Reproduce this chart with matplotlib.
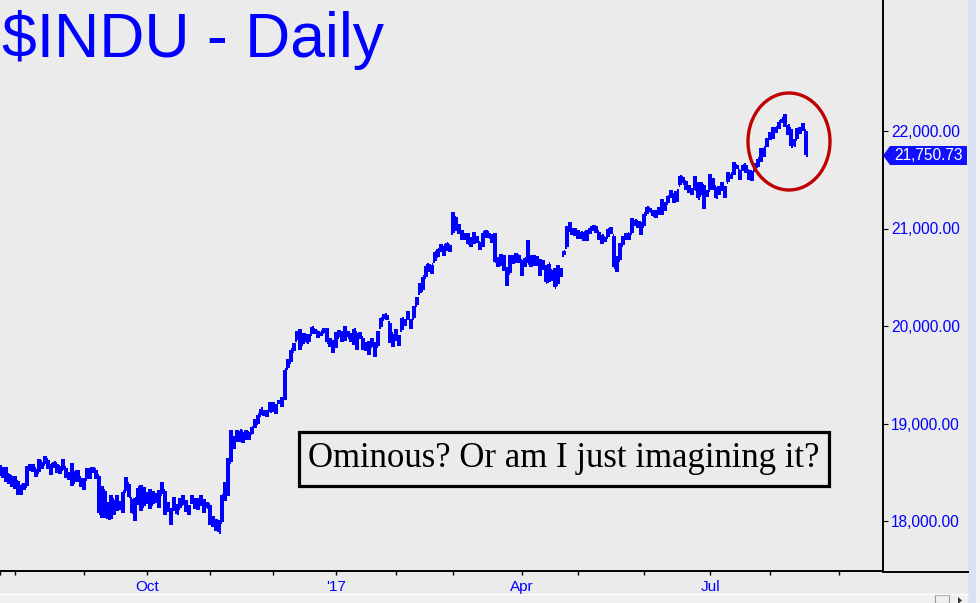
import numpy as np
import pandas as pd
import matplotlib
matplotlib.use("Agg")
import matplotlib.pyplot as plt
from matplotlib.patches import Ellipse, Rectangle, Polygon
from matplotlib.lines import Line2D

# ---------------- data (daily OHLC, $INDU, 25 Jul 2016 - 17 Aug 2017) ----------------
holidays = ["2016-09-05", "2016-11-24", "2016-12-26", "2017-01-02", "2017-01-16",
            "2017-02-20", "2017-04-14", "2017-05-29", "2017-07-04"]
dates = pd.bdate_range("2016-07-25", "2017-08-17").difference(pd.to_datetime(holidays))

opens = [
    18571, 18499, 18475, 18467, 18453,
    18434, 18401, 18315, 18354, 18360, 18541, 18531, 18532, 18501, 18610, 18580, 18626, 18550, 18567, 18586, 18550, 18537, 18540, 18479, 18455, 18395, 18500, 18445,
    18400, 18434, 18487, 18533, 18519, 18460, 18064, 18308, 18068, 18032, 18217, 18140, 18144, 18144, 18311, 18375, 18228, 18093, 18222, 18337, 18149,
    18282, 18270, 18178, 18268, 18282, 18282, 18308, 18132, 18088, 18177, 18135, 18130, 18179, 18182, 18141, 18190, 18209, 18165, 18200, 18172, 18176,
    18162, 18018, 17978, 17928, 17994, 18252, 18317, 18604, 18781, 18876, 18858, 18909, 18866, 18903, 18898, 18981, 19009, 19090, 19123, 19089, 19143,
    19149, 19174, 19217, 19235, 19262, 19565, 19631, 19739, 19852, 19876, 19811, 19912, 19836, 19920, 19962, 19935, 19914, 19943, 19964, 19835, 19833,
    19872, 19891, 19924, 19906, 19931, 19877, 19888, 19927, 19912, 19872, 19820, 19813, 19795, 19795, 19794, 19994, 20067, 20108, 20028, 19913,
    19923, 19860, 19964, 20025, 20107, 20049, 20085, 20211, 20338, 20374, 20504, 20627, 20564, 20663, 20723, 20800, 20773, 20801, 20819,
    20957, 21112, 20999, 20960, 20929, 20911, 20873, 20915, 20900, 20851, 20845, 20962, 20949, 20927, 20927, 20638, 20667, 20689, 20475, 20548, 20690, 20669, 20721,
    20665, 20634, 20709, 20658, 20680, 20665, 20625, 20650, 20576, 20464, 20560, 20541, 20435, 20572, 20732, 20811, 21000, 20978, 20983,
    20962, 20923, 20926, 20969, 20970, 21018, 21018, 20963, 20907, 20906, 20908, 20997, 20921, 20596, 20680, 20830, 20920, 20943, 20958, 21071, 21069, 21056,
    21030, 21145, 21198, 21172, 21157, 21186, 21209, 21249, 21257, 21347, 21297, 21346, 21444, 21523, 21482, 21413, 21391, 21436, 21412, 21346, 21439, 21344,
    21392, 21462, 21421, 21361, 21420, 21385, 21475, 21540, 21583, 21643, 21587, 21620, 21654, 21587, 21579, 21597, 21637, 21755, 21775, 21855,
    21925, 22004, 22020, 22063, 22100, 22092, 22000, 22016, 21874, 21914, 22020, 22057, 21995,
]
highs = [
    18571, 18555, 18555, 18483, 18466,
    18462, 18409, 18365, 18387, 18559, 18583, 18585, 18537, 18638, 18610, 18668, 18626, 18588, 18608, 18586, 18565, 18635, 18547, 18505, 18594, 18516, 18518, 18445,
    18439, 18548, 18544, 18558, 18519, 18460, 18358, 18308, 18191, 18264, 18217, 18264, 18206, 18294, 18449, 18375, 18228, 18238, 18339, 18365, 18346,
    18301, 18324, 18311, 18280, 18319, 18399, 18309, 18193, 18137, 18251, 18171, 18235, 18270, 18213, 18165, 18263, 18236, 18236, 18268, 18228, 18192,
    18169, 18047, 18021, 18010, 18263, 18400, 18650, 18935, 18874, 18934, 18925, 18909, 18930, 18915, 18960, 19043, 19084, 19152, 19138, 19141, 19225,
    19218, 19196, 19244, 19275, 19551, 19664, 19757, 19830, 19953, 19969, 19930, 19918, 19918, 19987, 19969, 19949, 19934, 19981, 19981, 19878, 19853,
    19939, 19957, 19949, 19999, 19944, 19929, 19974, 19928, 19941, 19872, 19835, 19846, 19877, 19833, 19949, 20082, 20125, 20108, 20028, 19913,
    19966, 19903, 20081, 20070, 20155, 20068, 20206, 20298, 20441, 20504, 20620, 20639, 20624, 20757, 20787, 20840, 20822, 20851, 20835,
    21169, 21113, 21049, 20980, 20955, 20950, 20913, 20960, 20928, 20863, 20958, 20981, 20956, 20941, 20953, 20703, 20735, 20733, 20602, 20733, 20727, 20747, 20725,
    20677, 20694, 20887, 20732, 20733, 20721, 20683, 20678, 20622, 20636, 20577, 20596, 20624, 20595, 20769, 21026, 21071, 21006, 21007,
    20980, 20965, 20962, 20984, 21008, 21028, 21030, 20963, 20938, 20912, 20991, 21012, 20921, 20716, 20849, 20918, 20953, 20957, 21112, 21086, 21075, 21064,
    21144, 21225, 21212, 21187, 21185, 21223, 21305, 21271, 21332, 21392, 21367, 21385, 21535, 21530, 21487, 21444, 21402, 21535, 21482, 21473, 21443, 21396,
    21562, 21519, 21421, 21432, 21472, 21434, 21579, 21564, 21681, 21650, 21598, 21647, 21654, 21597, 21590, 21676, 21711, 21830, 21830, 21929,
    21990, 22036, 22045, 22092, 22121, 22179, 22060, 22016, 21917, 22030, 22042, 22084, 21995,
]
lows = [
    18466, 18440, 18405, 18384, 18351,
    18332, 18262, 18270, 18315, 18360, 18509, 18500, 18455, 18501, 18533, 18580, 18536, 18475, 18545, 18494, 18483, 18537, 18445, 18418, 18355, 18395, 18400, 18350,
    18320, 18434, 18431, 18490, 18432, 18085, 18029, 18028, 18024, 18016, 18065, 18101, 18108, 18079, 18311, 18245, 18087, 18003, 18161, 18106, 18149,
    18172, 18123, 18178, 18182, 18136, 18282, 18061, 18092, 17959, 18103, 18070, 18130, 18165, 18091, 18063, 18179, 18124, 18108, 18150, 18077, 18137,
    17960, 17941, 17902, 17883, 17994, 18208, 18257, 18604, 18737, 18815, 18806, 18805, 18832, 18834, 18891, 18951, 18994, 19090, 19072, 19069, 19121,
    19114, 19101, 19203, 19171, 19237, 19565, 19631, 19739, 19852, 19749, 19811, 19835, 19836, 19920, 19921, 19880, 19898, 19930, 19832, 19788, 19718,
    19775, 19891, 19835, 19845, 19887, 19836, 19810, 19758, 19866, 19753, 19745, 19705, 19786, 19677, 19794, 19994, 20067, 20061, 19830, 19785,
    19844, 19800, 19964, 19995, 20063, 19967, 20085, 20211, 20338, 20374, 20503, 20556, 20532, 20663, 20708, 20755, 20721, 20773, 20757,
    20957, 20977, 20939, 20877, 20877, 20841, 20812, 20842, 20851, 20777, 20811, 20904, 20903, 20855, 20660, 20603, 20616, 20563, 20413, 20547, 20638, 20650, 20651,
    20517, 20610, 20643, 20606, 20616, 20611, 20513, 20573, 20452, 20456, 20465, 20395, 20435, 20501, 20732, 20811, 20968, 20931, 20928,
    20896, 20896, 20874, 20867, 20939, 20970, 20952, 20880, 20837, 20864, 20908, 20944, 20606, 20553, 20680, 20830, 20884, 20885, 20958, 21030, 21007, 20936,
    21025, 21145, 21170, 21130, 21106, 21141, 21142, 21179, 21257, 21315, 21263, 21267, 21444, 21466, 21397, 21363, 21342, 21391, 21310, 21346, 21197, 21323,
    21392, 21392, 21313, 21345, 21383, 21308, 21475, 21508, 21553, 21608, 21502, 21594, 21567, 21500, 21485, 21597, 21629, 21677, 21738, 21840,
    21911, 21920, 21978, 22017, 22085, 22043, 21956, 21844, 21843, 21914, 21970, 21998, 21750,
]
closes = [
    18493, 18473, 18472, 18456, 18432,
    18404, 18313, 18355, 18352, 18543, 18529, 18533, 18495, 18613, 18576, 18636, 18552, 18573, 18597, 18552, 18529, 18547, 18481, 18448, 18395, 18502, 18454, 18401,
    18419, 18492, 18538, 18526, 18479, 18085, 18325, 18067, 18034, 18212, 18124, 18120, 18130, 18294, 18392, 18261, 18094, 18228, 18339, 18143, 18308,
    18253, 18168, 18281, 18269, 18240, 18329, 18129, 18144, 18098, 18138, 18086, 18162, 18203, 18162, 18145, 18223, 18169, 18199, 18170, 18161, 18142,
    18037, 17959, 17931, 17888, 18260, 18332, 18590, 18807, 18848, 18869, 18924, 18868, 18904, 18868, 18956, 19024, 19083, 19152, 19098, 19122, 19124,
    19192, 19171, 19217, 19252, 19550, 19615, 19757, 19797, 19912, 19792, 19853, 19843, 19884, 19975, 19942, 19919, 19934, 19946, 19834, 19820, 19763,
    19882, 19943, 19900, 19964, 19888, 19856, 19954, 19892, 19886, 19826, 19804, 19732, 19827, 19800, 19913, 20069, 20101, 20094, 19971, 19864,
    19891, 19885, 20071, 20052, 20090, 20054, 20173, 20269, 20413, 20504, 20612, 20620, 20624, 20744, 20776, 20811, 20822, 20837, 20812,
    21115, 21003, 21006, 20954, 20924, 20856, 20858, 20903, 20881, 20837, 20950, 20934, 20915, 20905, 20669, 20661, 20656, 20597, 20551, 20702, 20659, 20729, 20663,
    20650, 20689, 20648, 20662, 20656, 20658, 20651, 20591, 20453, 20636, 20523, 20404, 20578, 20548, 20763, 20996, 20976, 20982, 20941,
    20913, 20950, 20957, 20951, 21007, 21013, 20975, 20943, 20919, 20897, 20982, 20980, 20607, 20663, 20805, 20895, 20937, 20938, 21083, 21080, 21029, 21009,
    21144, 21206, 21184, 21137, 21173, 21183, 21272, 21236, 21328, 21375, 21360, 21384, 21529, 21468, 21411, 21397, 21395, 21409, 21311, 21455, 21288, 21350,
    21479, 21479, 21321, 21414, 21409, 21409, 21533, 21554, 21638, 21630, 21575, 21641, 21612, 21580, 21513, 21613, 21711, 21797, 21830, 21891,
    21964, 22016, 22026, 22092, 22118, 22085, 22049, 21844, 21858, 21993, 21999, 22025, 21750.73,
]
last_price = closes[-1]

y_ticks = [18000, 19000, 20000, 21000, 22000]
month_labels = {"2016-10": "Oct", "2017-01": "'17", "2017-04": "Apr", "2017-07": "Jul"}
title = "$INDU - Daily"
note = "Ominous? Or am I just imagining it?"

# ---------------- figure ----------------
W, H = 980, 603
BG = "#ebebeb"
BLUE = "#0000ff"
fig = plt.figure(figsize=(W / 100, H / 100), dpi=100, facecolor=BG)

def fx(px):
    return px / W

def fy(py):
    return 1 - py / H

ax = fig.add_axes([0, fy(571), fx(883), 571 / H])
ax.set_facecolor(BG)

n = len(closes)
x = np.arange(n)
LW = 1.5
ax.vlines(x, lows, highs, color=BLUE, lw=LW, antialiased=False)
ax.hlines(opens, x - 0.62, x, color=BLUE, lw=LW, antialiased=False)
ax.hlines(closes, x, x + 0.62, color=BLUE, lw=LW, antialiased=False)

# axis scales
px_per_day = 3.005
oct_idx = list(dates).index(pd.Timestamp("2016-10-03"))
ax.set_xlim(oct_idx - 145 / px_per_day, oct_idx + (883 - 145) / px_per_day)
ppu = 97.5 / 1000.0
ax.set_ylim(22000 - (571 - 131) / ppu, 22000 + 131 / ppu)

# month ticks (extend calendar of trading days beyond the data)
future = pd.bdate_range("2017-08-18", "2017-09-29").difference(pd.to_datetime(["2017-09-04"]))
all_days = list(dates) + list(future)
tick_pos, tick_lab = [], []
prev = None
for i, d in enumerate(all_days):
    key = d.strftime("%Y-%m")
    if key != prev:
        tick_pos.append(i)
        tick_lab.append(month_labels.get(key, ""))
        prev = key
ax.set_xticks(tick_pos)
ax.set_xticklabels(tick_lab)
ax.tick_params(axis="x", direction="out", length=3.2, width=1.0, color="black",
               pad=3.5, labelsize=11, labelcolor=BLUE)

ax.yaxis.tick_right()
ax.set_yticks(y_ticks)
ax.set_yticklabels([f"{v:,.2f}" for v in y_ticks])
ax.tick_params(axis="y", direction="out", length=3.6, width=0.8, color="black",
               pad=2.2, labelsize=11.2, labelcolor=BLUE)
for lab in ax.get_xticklabels() + ax.get_yticklabels():
    lab.set_family("Liberation Sans")

for s in ["left", "top"]:
    ax.spines[s].set_visible(False)
ax.spines["right"].set_linewidth(1.4)
ax.spines["bottom"].set_linewidth(1.4)

# bottom line continues under the price scale
fig.add_artist(Line2D([fx(883), fx(968)], [fy(571.5), fy(571.5)], transform=fig.transFigure,
                      color="black", lw=1.4))

# window chrome on right and bottom
fig.add_artist(Rectangle((fx(968), 0), fx(8), 1, transform=fig.transFigure,
                         facecolor="#d8e2f0", edgecolor="none", zorder=0))
fig.add_artist(Rectangle((fx(976), 0), fx(4), 1, transform=fig.transFigure,
                         facecolor="#f4f4f4", edgecolor="none", zorder=0))
fig.add_artist(Rectangle((0, 0), fx(968), 9 / H, transform=fig.transFigure,
                         facecolor="#f0f0f0", edgecolor="none", zorder=0))
fig.add_artist(Line2D([0, fx(968)], [fy(594), fy(594)], transform=fig.transFigure,
                      color="#ffffff", lw=1.0))
fig.add_artist(Rectangle((fx(935), fy(603)), fx(14), 8 / H, transform=fig.transFigure,
                         facecolor="none", edgecolor="#9a9a9a", lw=0.8))
fig.add_artist(Polygon([[fx(958), fy(597)], [fx(958), fy(604)], [fx(962), fy(600.5)]],
                       closed=True, transform=fig.transFigure, facecolor="#333333",
                       edgecolor="none"))

# title
fig.text(fx(2), fy(57), title, fontsize=45, color=BLUE, family="Liberation Sans",
         ha="left", va="baseline")

# last-price tag
tag = Polygon([[fx(883), fy(155.5)], [fx(890), fy(146)], [fx(967), fy(146)],
               [fx(967), fy(165)], [fx(890), fy(165)]], closed=True,
              transform=fig.transFigure, facecolor="#1010ff", edgecolor="none")
fig.add_artist(tag)
fig.text(fx(928), fy(155.5), f"{last_price:,.2f}", fontsize=11.2, color="white",
         family="Liberation Sans", ha="center", va="center")

# red ellipse
fig.add_artist(Ellipse((fx(789), fy(141.5)), fx(82), 97 / H, transform=fig.transFigure,
                       fill=False, edgecolor="#c00000", lw=2.4))

# note box
fig.add_artist(Rectangle((fx(299), fy(486)), fx(530), 54 / H, transform=fig.transFigure,
                         facecolor=BG, edgecolor="black", lw=2.3))
fig.text(fx(564), fy(467), note, fontsize=25, color="black", family="Liberation Serif",
         ha="center", va="baseline")

fig.savefig("out.png", dpi=100, facecolor=BG)
